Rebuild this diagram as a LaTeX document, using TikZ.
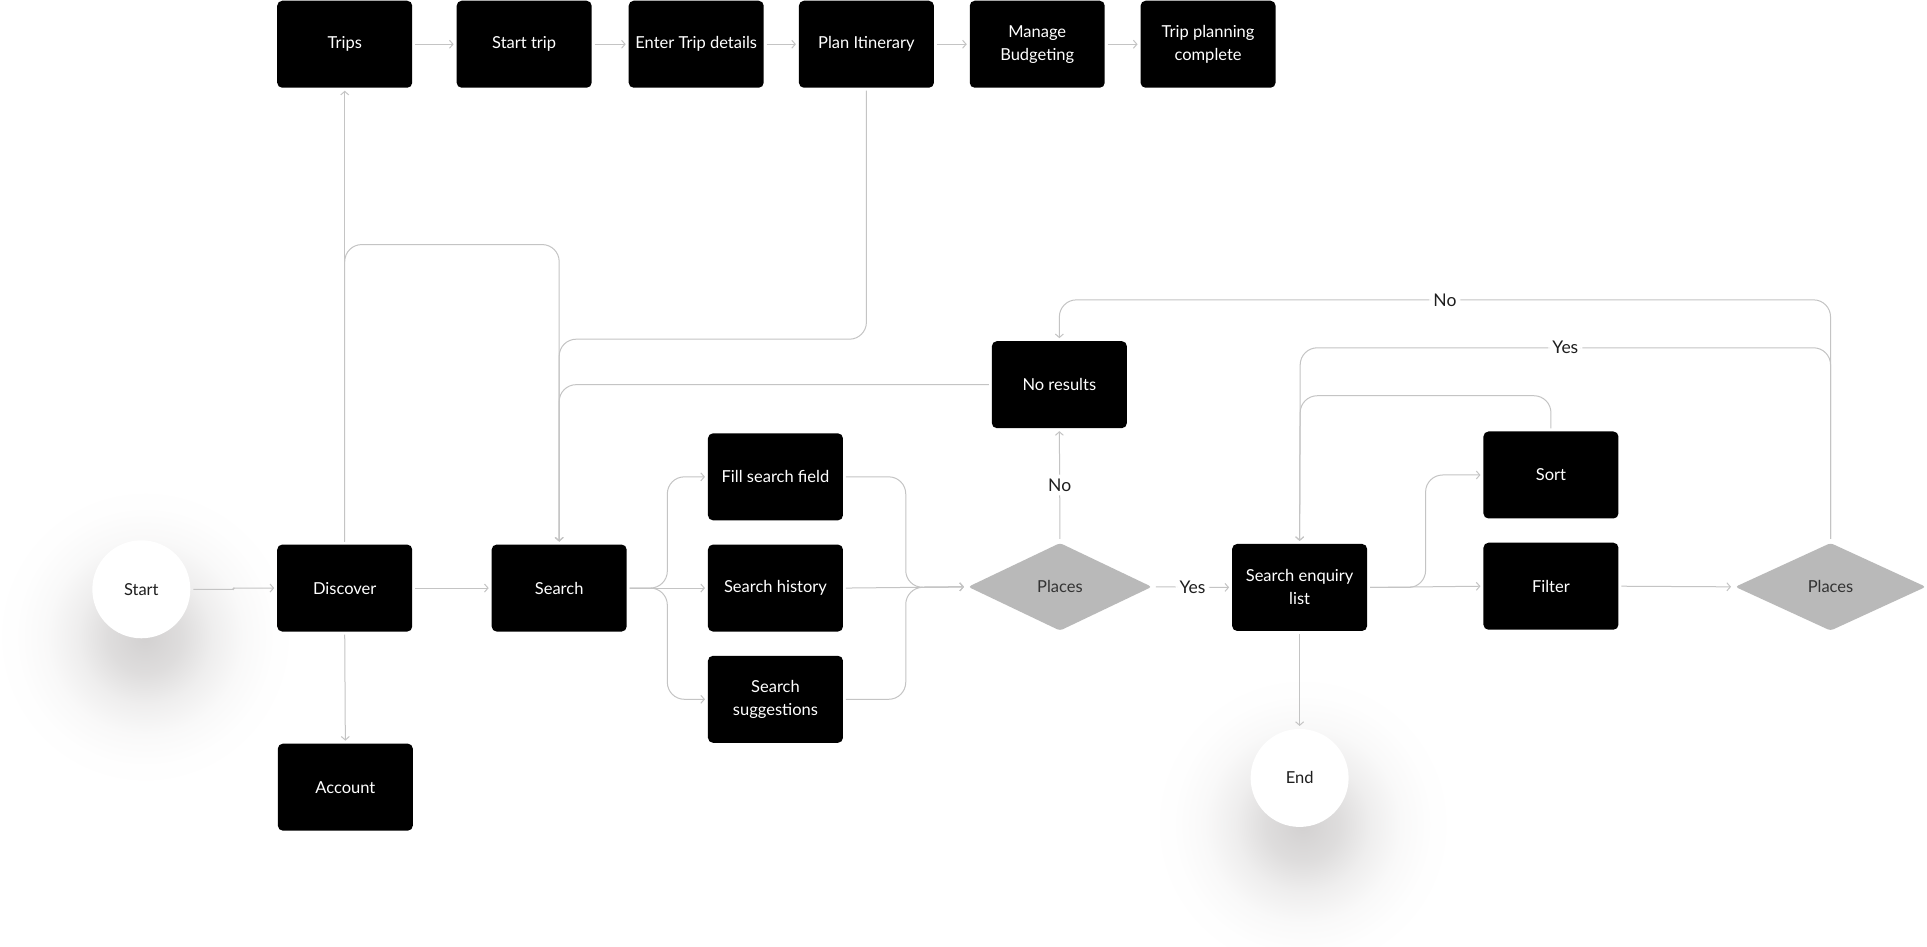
\documentclass[tikz,border=0pt]{standalone}
\usepackage{fontspec}
\setmainfont{Lato}
\usetikzlibrary{shapes.geometric,arrows.meta}
\definecolor{linegray}{HTML}{C4C4C4}
\definecolor{diagray}{HTML}{B9B9B9}
\definecolor{txtdark}{HTML}{1E1E1E}
\definecolor{diatxt}{HTML}{333333}
\definecolor{shadowc}{HTML}{8A8585}
\pgfdeclareradialshading{softshadow}{\pgfpoint{0bp}{0bp}}{%
  color(0bp)=(shadowc!38); color(6bp)=(shadowc!28); color(11bp)=(shadowc!14);
  color(16bp)=(shadowc!5); color(21bp)=(shadowc!1); color(25bp)=(white); color(50bp)=(white)}
\begin{document}
\begin{tikzpicture}[x=1.229pt,y=-1.229pt,
  txt/.style={font=\fontsize{16.5}{23}\selectfont},
  box/.style={txt, rectangle, rounded corners=5pt, fill=black, text=white,
    minimum width=135pt, minimum height=87pt, inner sep=0pt, outer sep=3pt, align=center},
  dia/.style={txt, diamond, fill=diagray, text=diatxt, rounded corners=3pt,
    minimum width=186pt, minimum height=90pt, inner sep=0pt, outer sep=3pt},
  term/.style={txt, circle, fill=white, text=txtdark, minimum size=98pt,
    inner sep=0pt, outer sep=3pt},
  conn/.style={draw=linegray, line width=1pt, rounded corners=17pt,
    -{Straight Barb[length=3.5pt,width=8pt]}},
  lbl/.style={font=\fontsize{17.5}{23}\selectfont, fill=white, text=txtdark, inner sep=4pt}]
\useasboundingbox (0,0) rectangle (1568,770);
\fill[white] (0,0) rectangle (1568,770);
% shadows
\shade[shading=softshadow] (118,518) circle (125);
\shade[shading=softshadow] (1060,671) circle (125);
% top row
\node[box] (trips) at (280.5,36) {Trips};
\node[box] (starttrip) at (426.5,36) {Start trip};
\node[box] (enter) at (566.5,36) {Enter Trip details};
\node[box] (plan) at (705,36) {Plan Itinerary};
\node[box] (budget) at (844,36) {Manage\\Budgeting};
\node[box] (complete) at (983,36) {Trip planning\\complete};
% main row
\node[term] (start) at (115,479.5) {Start};
\node[box] (discover) at (280.5,478.5) {Discover};
\node[box] (account) at (281,640.5) {Account};
\node[box] (search) at (455,478.5) {Search};
\node[box] (fill) at (631,388) {Fill search field};
\node[box] (history) at (631,478.5) {Search history};
\node[box] (sugg) at (631,569) {Search\\suggestions};
\node[dia] (places1) at (862.5,477.5) {Places};
\node[box] (noresults) at (862,313) {No results};
\node[box] (enquiry) at (1057.5,478) {Search enquiry\\list};
\node[box] (sort) at (1262,386.5) {Sort};
\node[box] (filter) at (1262,477) {Filter};
\node[dia, minimum width=193pt] (places2) at (1489.5,477.5) {Places};
\node[term] (endc) at (1057.5,633) {End};
% waypoints
\coordinate (wA) at (190,479.5);
\coordinate (wB1) at (280.5,199);
\coordinate (wB2) at (455,199);
\coordinate (wC1) at (705,276);
\coordinate (wC2) at (455,276);
\coordinate (wD) at (455,313);
\coordinate (wE) at (543,478.5);
\coordinate (wF) at (737,478);
\coordinate (wG) at (1160,478);
\coordinate (wH1) at (1262,322);
\coordinate (wH2) at (1058,322);
\coordinate (wI1) at (1489.5,244);
\coordinate (wI2) at (862,244);
\coordinate (wJ1) at (1489.5,283);
\coordinate (wJ2) at (1058,283);
% top row connectors
\draw[conn] (trips) -- (starttrip);
\draw[conn] (starttrip) -- (enter);
\draw[conn] (enter) -- (plan);
\draw[conn] (plan) -- (budget);
\draw[conn] (budget) -- (complete);
% main connectors
\draw[conn, rounded corners=1pt] (start.east) -- (wA) |- (discover.west);
\draw[conn] (discover.east) -- (search.west);
\draw[conn] (discover.south) -- (account.north);
\draw[conn] (discover.north) -- (trips.south);
\draw[conn] (discover.north) -- (wB1) -- (wB2) -- (search.north);
\draw[conn] (plan.south) -- (wC1) -- (wC2) -- (search.north);
\draw[conn] (noresults.west) -- (wD) -- (search.north);
\draw[conn] (search.east) -- (wE) |- (fill.west);
\draw[conn] (search.east) -- (history.west);
\draw[conn] (search.east) -- (wE) |- (sugg.west);
\draw[conn] (fill.east) -| (wF) -- (places1.west);
\draw[conn] (history.east) -- (places1.west);
\draw[conn] (sugg.east) -| (wF) -- (places1.west);
\draw[conn] (places1.north) -- node[lbl] {No} (noresults.south);
\draw[conn] (places1.east) -- node[lbl] {Yes} (enquiry.west);
\draw[conn] (enquiry.south) -- (endc.north);
\draw[conn] (enquiry.east) -- (filter.west);
\draw[conn] (enquiry.east) -- (wG) |- (sort.west);
\draw[conn] (filter.east) -- (places2.west);
\draw[conn] (sort.north) -- (wH1) -- (wH2) -- (enquiry.north);
\draw[conn] (places2.north) -- (wI1) -- node[lbl] {No} (wI2) -- (noresults.north);
\draw[conn] (places2.north) -- (wJ1) -- node[lbl] {Yes} (wJ2) -- (enquiry.north);
\end{tikzpicture}
\end{document}
